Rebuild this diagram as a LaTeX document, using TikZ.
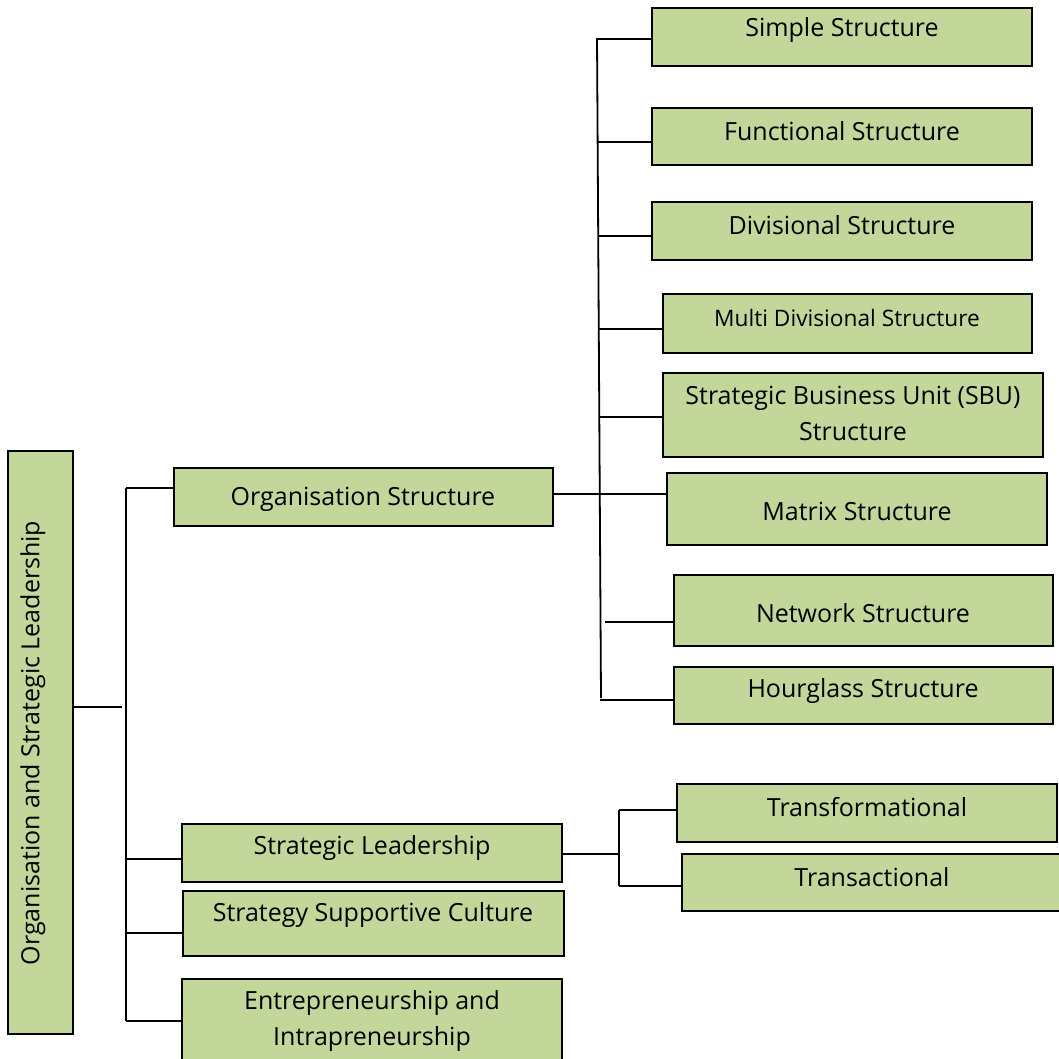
\documentclass[tikz,border=0pt]{standalone}
\usepackage{fontspec}
\setmainfont{Open Sans}
\definecolor{boxgreen}{RGB}{196,215,155}
\begin{document}
\begin{tikzpicture}[x=1pt,y=-1pt,
  box/.style={draw=black,line width=1.8pt,fill=boxgreen,rectangle,inner sep=0pt},
  txt/.style={inner sep=0pt,yshift=-2.5pt,font=\fontsize{25}{36}\selectfont,align=center,text=black},
  small/.style={inner sep=0pt,yshift=-2.5pt,font=\fontsize{22.7}{36}\selectfont,align=center,text=black},
  conn/.style={draw=black,line width=1.8pt}]
\useasboundingbox (0,0) rectangle (1059,1058);
\clip (0,0) rectangle (1059,1058);
% boxes: corners given as (x1,y1)-(x2,y2)
\newcommand{\mybox}[5]{\node[box,minimum width={#4-#2},minimum height={#5-#3}] (#1) at ({(#2+#4)/2},{(#3+#5)/2}) {};}
\mybox{root}{8}{451}{73}{1034}
\mybox{org}{174}{468}{553}{526}
\mybox{sl}{182}{824}{562}{882}
\mybox{ssc}{183}{891}{564}{956}
\mybox{ent}{182}{979}{562}{1070}
\mybox{simple}{652}{8}{1032}{66}
\mybox{func}{652}{108}{1032}{165}
\mybox{div}{652}{202}{1032}{260}
\mybox{multi}{663}{294}{1032}{353}
\mybox{sbu}{663}{373}{1043}{457}
\mybox{matrix}{667}{473}{1047}{545}
\mybox{network}{674}{575}{1053}{646}
\mybox{hour}{674}{667}{1053}{724}
\mybox{tf}{677}{784}{1057}{842}
\mybox{ta}{682}{854}{1062}{911}
% texts
\node[txt,yshift=2.5pt,rotate=90] (root-t) at (33,743) {Organisation and Strategic Leadership};
\node[txt] (org-t) at (363,497) {Organisation Structure};
\node[txt] (sl-t) at (372,845) {Strategic Leadership};
\node[txt] (ssc-t) at (373,912) {Strategy Supportive Culture};
\node[txt] (ent-t) at (372,1018) {Entrepreneurship and\\Intrapreneurship};
\node[txt] (simple-t) at (842,28) {Simple Structure};
\node[txt] (func-t) at (842,129) {Functional Structure};
\node[txt] (div-t) at (842,223) {Divisional Structure};
\node[small] (multi-t) at (847,315) {Multi Divisional Structure};
\node[txt] (sbu-t) at (853,411) {Strategic Business Unit (SBU)\\Structure};
\node[txt] (matrix-t) at (857,509) {Matrix Structure};
\node[txt] (network-t) at (863,611) {Network Structure};
\node[txt] (hour-t) at (863,688) {Hourglass Structure};
\node[txt] (tf-t) at (867,805) {Transformational};
\node[txt] (ta-t) at (872,875) {Transactional};
% junctions
\coordinate (rj) at (122,707);
\coordinate (t1) at (126,488);
\coordinate (t2) at (126,859);
\coordinate (t3) at (126,933);
\coordinate (t4) at (126,1021);
\coordinate (b1) at (597,39);
\coordinate (b2) at (598,142);
\coordinate (b3) at (598,236);
\coordinate (b4) at (598,329);
\coordinate (b5) at (599,417);
\coordinate (b6) at (599,494);
\coordinate (b7) at (605,622);
\coordinate (b8) at (600,700);
\coordinate (bt) at (597,38);
\coordinate (bb) at (601,698);
\coordinate (l1) at (619,810);
\coordinate (l2) at (619,886);
\coordinate (lm) at (619,854);
% connectors
\draw[conn] (root.east |- rj) -- (rj);
\draw[conn] (t1) -- (t4);
\draw[conn] (t1) -- (org.west |- t1);
\draw[conn] (t2) -- (sl.west |- t2);
\draw[conn] (t3) -- (ssc.west |- t3);
\draw[conn] (t4) -- (ent.west |- t4);
\draw[conn] (bt) -- (bb);
\draw[conn] (b1) -- (simple.west |- b1);
\draw[conn] (b2) -- (func.west |- b2);
\draw[conn] (b3) -- (div.west |- b3);
\draw[conn] (b4) -- (multi.west |- b4);
\draw[conn] (b5) -- (sbu.west |- b5);
\draw[conn] (org.east |- b6) -- (matrix.west |- b6);
\draw[conn] (b7) -- (network.west |- b7);
\draw[conn] (b8) -- (hour.west |- b8);
\draw[conn] (sl.east |- lm) -- (lm);
\draw[conn] (l1) -- (l2);
\draw[conn] (l1) -- (tf.west |- l1);
\draw[conn] (l2) -- (ta.west |- l2);
\end{tikzpicture}
\end{document}
